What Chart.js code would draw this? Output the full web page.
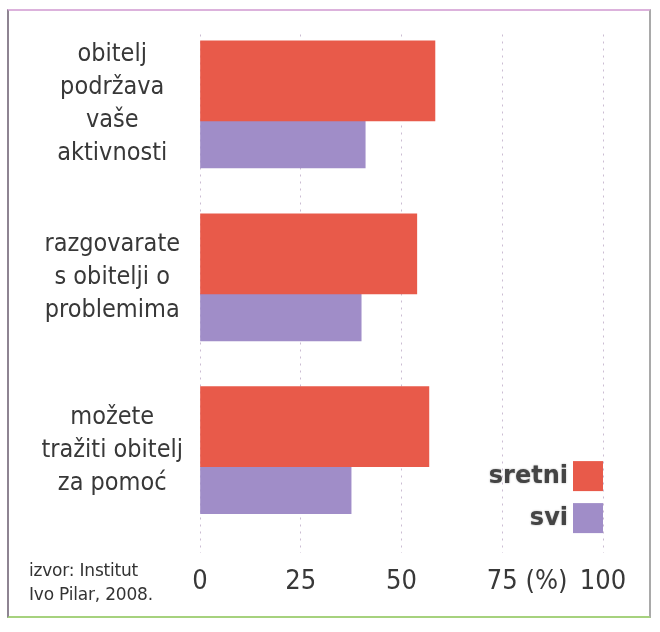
<!DOCTYPE html>
<html>
<head>
<meta charset="utf-8">
<script src="https://cdn.jsdelivr.net/npm/chart.js@4.4.1/dist/chart.umd.min.js"></script>
<style>
  html, body { margin: 0; padding: 0; background: #ffffff; }
  #wrap { position: relative; width: 660px; height: 632px; overflow: hidden; background: #fff; }
  #frame { position: absolute; left: 7px; top: 9px; width: 640px; height: 605px;
           border-top: 2px solid #dcb2dc; border-left: 2px solid #8e8492;
           border-right: 2px solid #a9a9a9; border-bottom: 2px solid #a6d27e; }
  #c { position: absolute; left: 0; top: 0; }
  #src { position: absolute; left: 29px; top: 558px; font-family: "DejaVu Sans", sans-serif;
         font-size: 17px; line-height: 24px; color: #333; white-space: nowrap; letter-spacing: -0.2px; }
</style>
</head>
<body>
<div id="wrap">
  <div id="frame"></div>
  <canvas id="c" width="660" height="632"></canvas>
  <div id="src"></div>
</div>
<script>
// ---- data ----
const categories = [
  ['obitelj', 'podržava', 'vaše', 'aktivnosti'],
  ['razgovarate', 's obitelji o', 'problemima'],
  ['možete', 'tražiti obitelj', 'za pomoć']
];
const seriesNames = ['sretni', 'svi'];
const sretniValues = [58.3, 53.8, 56.8];
const sviValues = [41.0, 40.0, 37.5];
const xTickValues = [0, 25, 50, 75, 100];
const unitLabel = '(%)';
const unitLabelValue = 86;
const sourceLines = ['izvor: Institut', 'Ivo Pilar, 2008.'];

document.getElementById('src').innerHTML = sourceLines.join('<br>');

const RED = 'rgb(232,90,74)';
const PURPLE = 'rgb(160,141,200)';
const TEXT = '#383838';
const FONT = '"DejaVu Sans Condensed", "DejaVu Sans", sans-serif';

const insideLegend = {
  id: 'insideLegend',
  afterDraw(chart) {
    const ctx = chart.ctx;
    const a = chart.chartArea;
    const box = 30, gap = 12;
    const n = chart.data.datasets.length;
    ctx.save();
    ctx.font = 'bold 24px "DejaVu Sans", sans-serif';
    ctx.textAlign = 'right';
    ctx.textBaseline = 'middle';
    chart.data.datasets.forEach((ds, i) => {
      const bottom = a.bottom - 20 - (n - 1 - i) * (box + gap);
      const top = bottom - box;
      const left = a.right - box;
      ctx.fillStyle = ds.backgroundColor;
      ctx.fillRect(left, top, box, box);
      ctx.shadowColor = 'rgba(0,0,0,0.35)';
      ctx.shadowBlur = 2;
      ctx.fillStyle = '#444';
      ctx.fillText(ds.label, left - 5, top + box / 2 + 1);
      ctx.shadowBlur = 0;
      ctx.shadowColor = 'transparent';
    });
    ctx.restore();
  }
};

new Chart(document.getElementById('c'), {
  type: 'bar',
  data: {
    labels: categories,
    datasets: [
      { label: seriesNames[0], data: sretniValues, backgroundColor: RED, barThickness: 80, borderWidth: 0 },
      { label: seriesNames[1], data: sviValues, backgroundColor: PURPLE, barThickness: 47, borderWidth: 0 }
    ]
  },
  options: {
    indexAxis: 'y',
    responsive: false,
    animation: false,
    layout: { padding: { left: 8, right: 57, top: 34.5, bottom: 21.5 } },
    plugins: {
      legend: { display: false },
      tooltip: { enabled: false }
    },
    scales: {
      x: {
        type: 'linear',
        min: 0, max: 100,
        afterBuildTicks(scale) {
          scale.ticks = xTickValues.map(v => ({ value: v })).concat([{ value: unitLabelValue }])
            .sort((p, q) => p.value - q.value);
        },
        afterFit(scale) { scale.paddingLeft = 0; scale.paddingRight = 0; },
        grid: {
          drawTicks: false,
          color: (c) => (c.tick && c.tick.value === unitLabelValue) ? 'rgba(0,0,0,0)' : 'rgba(185,165,195,0.75)',
          lineWidth: 1
        },
        border: { display: false, dash: [2, 5] },
        ticks: {
          autoSkip: false,
          maxRotation: 0,
          padding: 12.5,
          color: TEXT,
          font: { family: FONT, size: 27 },
          callback: (v) => v === unitLabelValue ? unitLabel : String(v)
        }
      },
      y: {
        type: 'category',
        afterFit(scale) { scale.width = 192; scale.paddingTop = 0; scale.paddingBottom = 0; },
        grid: { display: false, drawTicks: false },
        border: { display: false },
        ticks: {
          crossAlign: 'center',
          padding: 17,
          labelOffset: -16.5,
          color: TEXT,
          font: { family: FONT, size: 25, lineHeight: '33px' }
        }
      }
    }
  },
  plugins: [insideLegend]
});
</script>
</body>
</html>
